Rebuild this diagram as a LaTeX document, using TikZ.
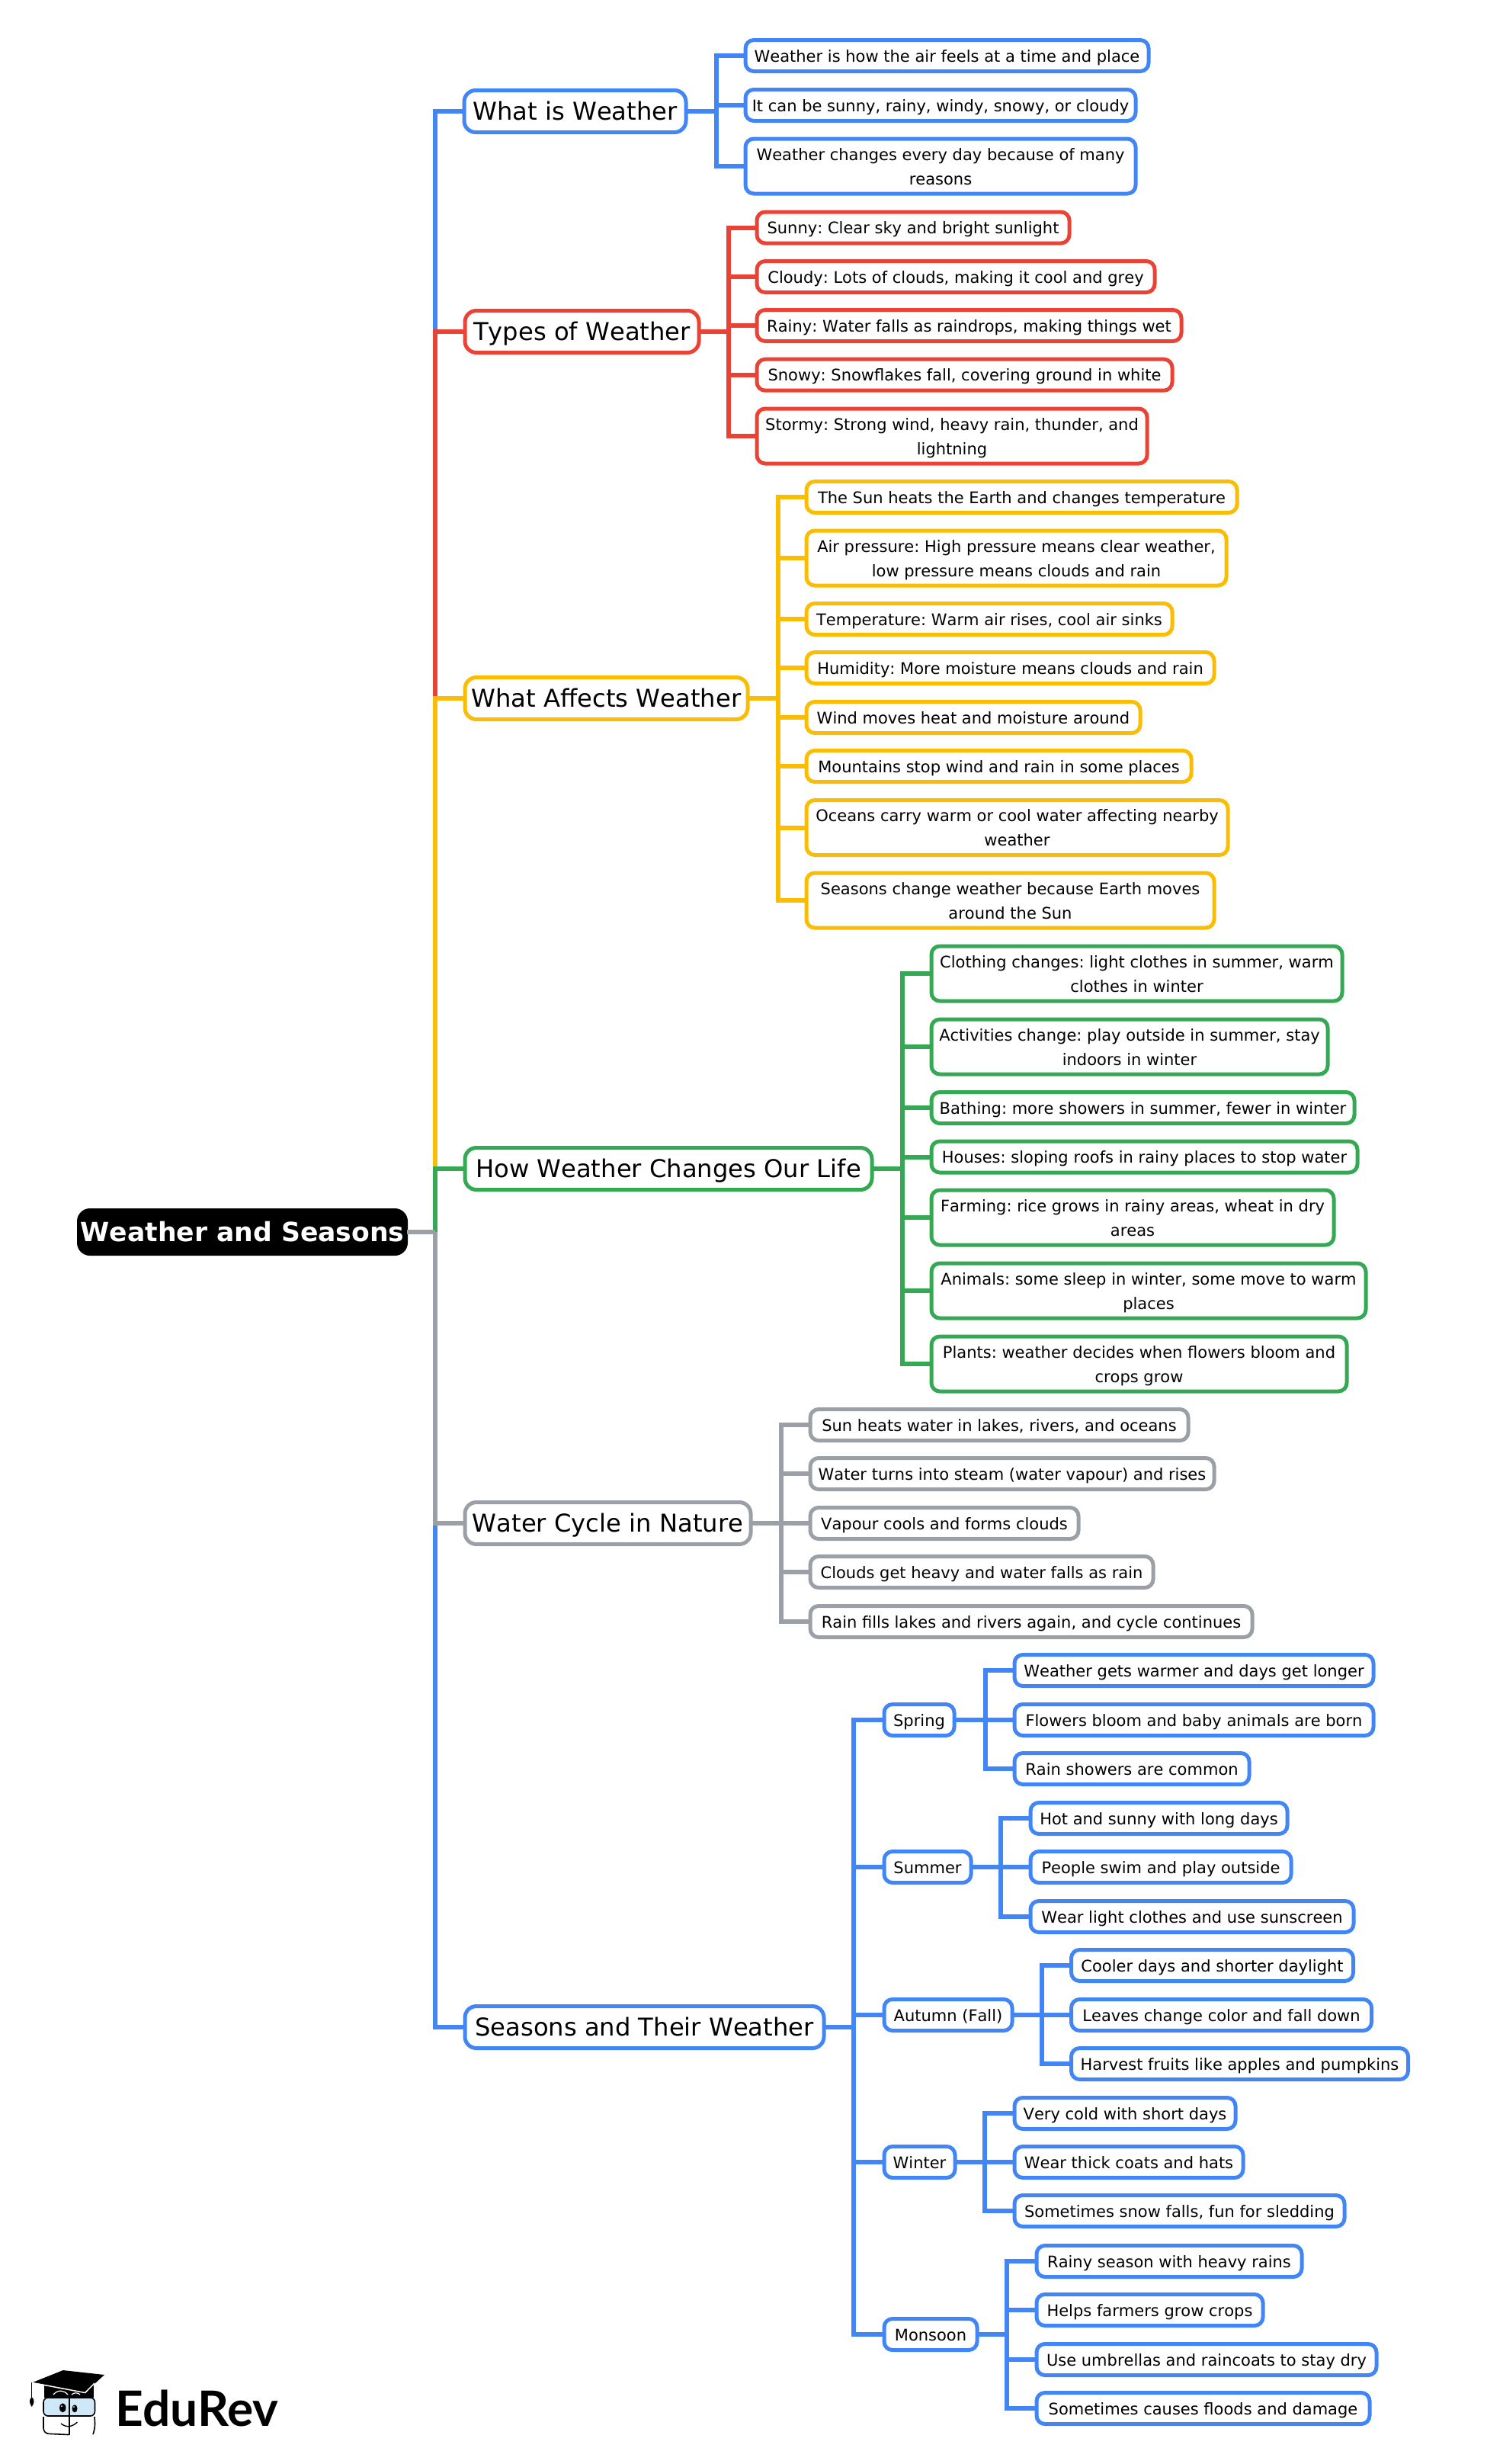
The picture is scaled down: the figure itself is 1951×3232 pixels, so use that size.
\documentclass[tikz,border=0pt]{standalone}
\usepackage{fontspec}
\setmainfont[Kerning=Off]{DejaVu Sans}
\newfontfamily\logofont{Lato}
\usetikzlibrary{arrows.meta, positioning}
\frenchspacing

\definecolor{cblue}{HTML}{4285F4}
\definecolor{cred}{HTML}{EA4335}
\definecolor{cyellow}{HTML}{FBBC04}
\definecolor{cgreen}{HTML}{34A853}
\definecolor{cgray}{HTML}{9AA0A6}
\definecolor{cglass}{HTML}{CFE8F7}

\begin{document}
\begin{tikzpicture}[
    x=1pt, y=-1pt,
    rootbox/.style={rectangle, draw=black, fill=black, text=white, rounded corners=16pt, line width=2pt, anchor=west, inner sep=0pt, outer sep=0pt, minimum height=60pt, align=center, font=\fontsize{34.6}{44}\selectfont\bfseries, execute at begin node={\rule[-10pt]{0pt}{44pt}}},
    topic/.style={rectangle, draw=#1, fill=white, rounded corners=15pt, line width=5pt, anchor=west, inner sep=0pt, outer sep=0pt, minimum height=55pt, align=center, font=\fontsize{32.2}{42}\selectfont, execute at begin node={\rule[-10pt]{0pt}{42pt}}},
    leaf/.style={rectangle, draw=#1, fill=white, rounded corners=11pt, line width=5pt, anchor=west, inner sep=0pt, outer sep=0pt, minimum height=41pt, align=center, font=\fontsize{21}{32}\selectfont, execute at begin node={\rule[-8pt]{0pt}{32pt}}},
    tall/.style={minimum height=72pt, execute at begin node={\rule{0pt}{56pt}}},
    link/.style={draw=#1, line width=6pt}
]

\path[use as bounding box] (0,0) rectangle (1951,3232);

\node[rootbox, minimum width=432pt] (root) at (102,1616) {Weather and Seasons};

\node[topic=cblue, minimum width=291pt] (what) at (609,146) {What is Weather};
\node[topic=cred, minimum width=307pt] (types) at (610,435) {Types of Weather};
\node[topic=cyellow, minimum width=371pt] (affects) at (610,916) {What Affects Weather};
\node[topic=cgreen, minimum width=534pt] (how) at (610,1533) {How Weather Changes Our Life};
\node[topic=cgray, minimum width=375pt] (water) at (610,1998) {Water Cycle in Nature};
\node[topic=cblue, minimum width=471pt] (seasons) at (610,2659) {Seasons and Their Weather};

\node[leaf=cblue, minimum width=529pt] (w1) at (978,73) {Weather is how the air feels at a time and place};
\node[leaf=cblue, minimum width=512pt] (w2) at (978,138) {It can be sunny, rainy, windy, snowy, or cloudy};
\node[leaf=cblue, tall, minimum width=512pt] (w3) at (978,218) {Weather changes every day because of many\\reasons};

\node[leaf=cred, minimum width=410pt] (t1) at (993,298.5) {Sunny: Clear sky and bright sunlight};
\node[leaf=cred, minimum width=522pt] (t2) at (993,363) {Cloudy: Lots of clouds, making it cool and grey};
\node[leaf=cred, minimum width=557pt] (t3) at (993,427) {Rainy: Water falls as raindrops, making things wet};
\node[leaf=cred, minimum width=545pt] (t4) at (993,491.7) {Snowy: Snowflakes fall, covering ground in white};
\node[leaf=cred, tall, minimum width=512pt] (t5) at (993,572) {Stormy: Strong wind, heavy rain, thunder, and\\lightning};

\node[leaf=cyellow, minimum width=565pt] (a1) at (1058,652) {The Sun heats the Earth and changes temperature};
\node[leaf=cyellow, tall, minimum width=551pt] (a2) at (1058,732) {Air pressure: High pressure means clear weather,\\low pressure means clouds and rain};
\node[leaf=cyellow, minimum width=480pt] (a3) at (1058,812) {Temperature: Warm air rises, cool air sinks};
\node[leaf=cyellow, minimum width=535pt] (a4) at (1058,876) {Humidity: More moisture means clouds and rain};
\node[leaf=cyellow, minimum width=438pt] (a5) at (1058,941) {Wind moves heat and moisture around};
\node[leaf=cyellow, minimum width=505pt] (a6) at (1058,1005) {Mountains stop wind and rain in some places};
\node[leaf=cyellow, tall, minimum width=553pt] (a7) at (1058,1085.5) {Oceans carry warm or cool water affecting nearby\\weather};
\node[leaf=cyellow, tall, minimum width=535pt] (a8) at (1058,1181) {Seasons change weather because Earth moves\\around the Sun};

\node[leaf=cgreen, tall, minimum width=539pt] (h1) at (1222,1277) {Clothing changes: light clothes in summer, warm\\clothes in winter};
\node[leaf=cgreen, tall, minimum width=520pt] (h2) at (1222,1373) {Activities change: play outside in summer, stay\\indoors in winter};
\node[leaf=cgreen, minimum width=555pt] (h3) at (1222,1453) {Bathing: more showers in summer, fewer in winter};
\node[leaf=cgreen, minimum width=559pt] (h4) at (1222,1517.5) {Houses: sloping roofs in rainy places to stop water};
\node[leaf=cgreen, tall, minimum width=528pt] (h5) at (1222,1597) {Farming: rice grows in rainy areas, wheat in dry\\areas};
\node[leaf=cgreen, tall, minimum width=570pt] (h6) at (1222,1693) {Animals: some sleep in winter, some move to warm\\places};
\node[leaf=cgreen, tall, minimum width=545pt] (h7) at (1222,1789) {Plants: weather decides when flowers bloom and\\crops grow};

\node[leaf=cgray, minimum width=496pt] (c1) at (1063,1869) {Sun heats water in lakes, rivers, and oceans};
\node[leaf=cgray, minimum width=530pt] (c2) at (1063,1933) {Water turns into steam (water vapour) and rises};
\node[leaf=cgray, minimum width=352pt] (c3) at (1063,1998) {Vapour cools and forms clouds};
\node[leaf=cgray, minimum width=450pt] (c4) at (1063,2062) {Clouds get heavy and water falls as rain};
\node[leaf=cgray, minimum width=580pt] (c5) at (1063,2127) {Rain fills lakes and rivers again, and cycle continues};

\node[leaf=cblue, minimum width=92pt] (spring) at (1160,2256) {Spring};
\node[leaf=cblue, minimum width=114pt] (summer) at (1160,2449) {Summer};
\node[leaf=cblue, minimum width=168pt] (autumn) at (1160,2643) {Autumn (Fall)};
\node[leaf=cblue, minimum width=93pt] (winter) at (1160,2836) {Winter};
\node[leaf=cblue, minimum width=122pt] (monsoon) at (1160,3062) {Monsoon};

\node[leaf=cblue, minimum width=471pt] (s1) at (1331,2191) {Weather gets warmer and days get longer};
\node[leaf=cblue, minimum width=471pt] (s2) at (1331,2256) {Flowers bloom and baby animals are born};
\node[leaf=cblue, minimum width=308pt] (s3) at (1331,2320) {Rain showers are common};

\node[leaf=cblue, minimum width=337pt] (u1) at (1352,2385) {Hot and sunny with long days};
\node[leaf=cblue, minimum width=342pt] (u2) at (1352,2449) {People swim and play outside};
\node[leaf=cblue, minimum width=424pt] (u3) at (1352,2514) {Wear light clothes and use sunscreen};

\node[leaf=cblue, minimum width=370pt] (f1) at (1405.5,2578) {Cooler days and shorter daylight};
\node[leaf=cblue, minimum width=394pt] (f2) at (1405.5,2643) {Leaves change color and fall down};
\node[leaf=cblue, minimum width=442pt] (f3) at (1405.5,2707) {Harvest fruits like apples and pumpkins};

\node[leaf=cblue, minimum width=290pt] (n1) at (1331,2772) {Very cold with short days};
\node[leaf=cblue, minimum width=300pt] (n2) at (1331,2836) {Wear thick coats and hats};
\node[leaf=cblue, minimum width=433pt] (n3) at (1331,2900) {Sometimes snow falls, fun for sledding};

\node[leaf=cblue, minimum width=348pt] (m1) at (1360,2966) {Rainy season with heavy rains};
\node[leaf=cblue, minimum width=297pt] (m2) at (1360,3030) {Helps farmers grow crops};
\node[leaf=cblue, minimum width=446pt] (m3) at (1360,3095) {Use umbrellas and raincoats to stay dry};
\node[leaf=cblue, minimum width=437pt] (m4) at (1360,3159) {Sometimes causes floods and damage};

% branch points
\coordinate (rootbus) at (571,1616);
\coordinate (whatbus) at (940,146);
\coordinate (typesbus) at (956,435);
\coordinate (affectsbus) at (1021,916);
\coordinate (howbus) at (1183.6,1533);
\coordinate (waterbus) at (1024.5,1998);
\coordinate (seasonsbus) at (1120,2659);
\coordinate (springbus) at (1293,2256);
\coordinate (summerbus) at (1313.4,2449);
\coordinate (autumnbus) at (1366.5,2643);
\coordinate (winterbus) at (1292.4,2836);
\coordinate (monsoonbus) at (1321,3062);

\draw[link=cblue] (what.east) -- (whatbus) |- (w1.west);
\draw[link=cblue] (what.east) -- (whatbus) |- (w2.west);
\draw[link=cblue] (what.east) -- (whatbus) |- (w3.west);

\draw[link=cred] (types.east) -- (typesbus) |- (t1.west);
\draw[link=cred] (types.east) -- (typesbus) |- (t2.west);
\draw[link=cred] (types.east) -- (typesbus) |- (t3.west);
\draw[link=cred] (types.east) -- (typesbus) |- (t4.west);
\draw[link=cred] (types.east) -- (typesbus) |- (t5.west);

\draw[link=cyellow] (affects.east) -- (affectsbus) |- (a1.west);
\draw[link=cyellow] (affects.east) -- (affectsbus) |- (a2.west);
\draw[link=cyellow] (affects.east) -- (affectsbus) |- (a3.west);
\draw[link=cyellow] (affects.east) -- (affectsbus) |- (a4.west);
\draw[link=cyellow] (affects.east) -- (affectsbus) |- (a5.west);
\draw[link=cyellow] (affects.east) -- (affectsbus) |- (a6.west);
\draw[link=cyellow] (affects.east) -- (affectsbus) |- (a7.west);
\draw[link=cyellow] (affects.east) -- (affectsbus) |- (a8.west);

\draw[link=cgreen] (how.east) -- (howbus) |- (h1.west);
\draw[link=cgreen] (how.east) -- (howbus) |- (h2.west);
\draw[link=cgreen] (how.east) -- (howbus) |- (h3.west);
\draw[link=cgreen] (how.east) -- (howbus) |- (h4.west);
\draw[link=cgreen] (how.east) -- (howbus) |- (h5.west);
\draw[link=cgreen] (how.east) -- (howbus) |- (h6.west);
\draw[link=cgreen] (how.east) -- (howbus) |- (h7.west);

\draw[link=cgray] (water.east) -- (waterbus) |- (c1.west);
\draw[link=cgray] (water.east) -- (waterbus) |- (c2.west);
\draw[link=cgray] (water.east) -- (waterbus) |- (c3.west);
\draw[link=cgray] (water.east) -- (waterbus) |- (c4.west);
\draw[link=cgray] (water.east) -- (waterbus) |- (c5.west);

\draw[link=cblue] (seasons.east) -- (seasonsbus) |- (spring.west);
\draw[link=cblue] (seasons.east) -- (seasonsbus) |- (summer.west);
\draw[link=cblue] (seasons.east) -- (seasonsbus) |- (autumn.west);
\draw[link=cblue] (seasons.east) -- (seasonsbus) |- (winter.west);
\draw[link=cblue] (seasons.east) -- (seasonsbus) |- (monsoon.west);

\draw[link=cblue] (spring.east) -- (springbus) |- (s1.west);
\draw[link=cblue] (spring.east) -- (springbus) |- (s2.west);
\draw[link=cblue] (spring.east) -- (springbus) |- (s3.west);

\draw[link=cblue] (summer.east) -- (summerbus) |- (u1.west);
\draw[link=cblue] (summer.east) -- (summerbus) |- (u2.west);
\draw[link=cblue] (summer.east) -- (summerbus) |- (u3.west);

\draw[link=cblue] (autumn.east) -- (autumnbus) |- (f1.west);
\draw[link=cblue] (autumn.east) -- (autumnbus) |- (f2.west);
\draw[link=cblue] (autumn.east) -- (autumnbus) |- (f3.west);

\draw[link=cblue] (winter.east) -- (winterbus) |- (n1.west);
\draw[link=cblue] (winter.east) -- (winterbus) |- (n2.west);
\draw[link=cblue] (winter.east) -- (winterbus) |- (n3.west);

\draw[link=cblue] (monsoon.east) -- (monsoonbus) |- (m1.west);
\draw[link=cblue] (monsoon.east) -- (monsoonbus) |- (m2.west);
\draw[link=cblue] (monsoon.east) -- (monsoonbus) |- (m3.west);
\draw[link=cblue] (monsoon.east) -- (monsoonbus) |- (m4.west);

% trunk, in the order the colours overlap
\draw[link=cblue] (rootbus) |- (what.west);
\draw[link=cred] (rootbus) |- (types.west);
\draw[link=cyellow] (rootbus) |- (affects.west);
\draw[link=cgreen] (rootbus) |- (how.west);
\draw[link=cblue] (rootbus) |- (seasons.west);
\draw[link=cgray] (rootbus) |- (water.west);
\draw[link=cgray] (root.east) -- (rootbus);

% logo
\fill[black] (42.7,3125) -- (82.7,3109) -- (137,3115) -- (111.7,3138) -- cycle;
\fill[black] (58,3128) -- (123,3128) -- (123,3145) -- (58,3145) -- cycle;
\draw[white, line width=1.5pt] (42.7,3125.5) -- (111.7,3138.5) -- (124,3126);
\draw[white, line width=1.2pt] (70,3141) .. controls (76,3134) and (84,3135) .. (89,3141);
\draw[white, line width=1.2pt] (94,3141) .. controls (97,3138) and (102,3138) .. (105,3141);
\draw[black, line width=1.2pt] (41.7,3125) -- (41.7,3146);
\fill[black] (41.7,3144) .. controls (46,3148) and (45,3152) .. (41.7,3157) .. controls (38.5,3152) and (37.5,3148) .. (41.7,3144);
\draw[black, fill=cglass, line width=1.6pt, rounded corners=6pt] (57,3145) rectangle (124.5,3169);
\draw[black, line width=1.6pt, rounded corners=7pt] (57,3170) -- (57,3192) -- (90,3193.5) (124,3170) -- (125,3184) -- (122,3193);
\draw[black, line width=2pt] (90.5,3143) -- (90.5,3194);
\fill[black] (82.3,3158.3) ellipse[x radius=4.2pt, y radius=6pt];
\fill[black] (98,3159.3) ellipse[x radius=3.5pt, y radius=5pt];
\fill[white] (81,3156) circle[radius=1pt];
\fill[white] (97,3157) circle[radius=1pt];
\draw[black, line width=1.4pt] (80,3179) .. controls (88,3185) and (95,3183) .. (101.5,3177);
\node[anchor=west, inner sep=0pt, font=\logofont\fontsize{64}{64}\selectfont\bfseries] (logo) at (151.5,3158.5) {EduRev};

\end{tikzpicture}
\end{document}
